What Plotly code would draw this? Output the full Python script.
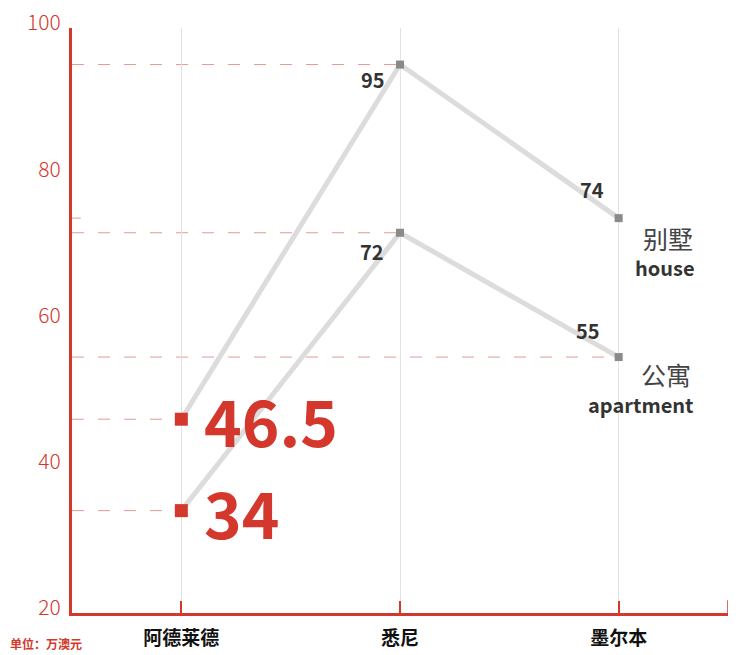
import plotly.graph_objects as go

cities = ["阿德莱德", "悉尼", "墨尔本"]
house = [46.5, 95, 74]
apartment = [34, 72, 55]
y_ticks = [20, 40, 60, 80, 100]
series_names = [("别墅", "house"), ("公寓", "apartment")]
unit_text = "单位：万澳元"

RED = "#d4382c"
DASH_RED = "#e39a93"
GRAY_LINE = "#dcdcdc"
GRAY_MARK = "#8a8a8a"
FONT = "Noto Sans CJK SC"

# the page body adds an 8px offset, so the figure is made 8px smaller
PAGE_OFF = 8
W, H = 750 - PAGE_OFF, 655 - PAGE_OFF
ML, MR, MT, MB = 72 - PAGE_OFF, 22, 28 - PAGE_OFF, 42

fig = go.Figure()

# dashed reference lines from the y axis to each point
shapes = []
for series in (house, apartment):
    for i, v in enumerate(series):
        if i == 0 or i == 1 or (i == 2 and series is apartment):
            shapes.append(dict(type="line", xref="x", yref="y", x0=-0.5, x1=i, y0=v, y1=v,
                               line=dict(color=DASH_RED, width=1, dash="12px,14px"), layer="below"))
# short dash for melbourne house value
shapes.append(dict(type="line", xref="x", yref="y", x0=-0.5, x1=-0.46, y0=house[2], y1=house[2],
                   line=dict(color=DASH_RED, width=1), layer="below"))
# end tick on x axis
shapes.append(dict(type="line", xref="x", yref="paper", x0=2.5, x1=2.5, y0=0, y1=0.022,
                   line=dict(color=RED, width=1.5)))
fig.update_layout(shapes=shapes)

for series in (house, apartment):
    fig.add_trace(go.Scatter(
        x=[0, 1, 2], y=series, mode="lines+markers",
        line=dict(color=GRAY_LINE, width=5),
        marker=dict(symbol="square", color=[RED, GRAY_MARK, GRAY_MARK], size=[13, 8, 8],
                    opacity=1, line=dict(width=0)),
        opacity=1, hoverinfo="skip", showlegend=False, cliponaxis=False))

ann = []
# small value labels
offsets_house = {1: (-27, -15), 2: (-27, 29)}
offsets_apt = {1: (-28, -19), 2: (-31, 27)}
for series, offs in ((house, offsets_house), (apartment, offsets_apt)):
    for i, (dx, dy) in offs.items():
        ann.append(dict(x=i, y=series[i], xref="x", yref="y", text=f"{series[i]:g}", showarrow=False,
                        xshift=dx, yshift=dy, font=dict(family=FONT, size=20, color="#333333", weight="bold")))
# big Adelaide labels
for series in (house, apartment):
    ann.append(dict(x=0, y=series[0], xref="x", yref="y", text=f"{series[0]:g}", showarrow=False,
                    xanchor="left", xshift=21, yshift=0,
                    font=dict(family=FONT, size=64, color=RED, weight="bold")))
# series name labels at right
name_offsets = [((49, -20), (46, -49)), ((47, -17), (22, -47))]
for series, (cn, en), ((cx, cy), (ex, ey)) in zip((house, apartment), series_names, name_offsets):
    ann.append(dict(x=2, y=series[2], xref="x", yref="y", text=cn, showarrow=False,
                    xshift=cx, yshift=cy, font=dict(family=FONT, size=25, color="#444444")))
    ann.append(dict(x=2, y=series[2], xref="x", yref="y", text=en, showarrow=False,
                    xshift=ex, yshift=ey, font=dict(family=FONT, size=20, color="#333333", weight="bold")))
plot_w = W - ML - MR
plot_h = H - MT - MB
ann.append(dict(x=(8 - PAGE_OFF - ML) / plot_w, y=(H - MB - (643 - PAGE_OFF)) / plot_h,
                xref="paper", yref="paper",
                text=unit_text, showarrow=False, xanchor="left", yanchor="middle",
                font=dict(family=FONT, size=12, color=RED, weight="bold")))
fig.update_layout(annotations=ann)

fig.update_layout(
    width=W, height=H,
    margin=dict(l=ML, r=MR, t=MT, b=MB, autoexpand=False),
    paper_bgcolor="white", plot_bgcolor="white",
    xaxis=dict(range=[-0.5, 2.5], tickmode="array", tickvals=[0, 1, 2], ticktext=cities,
               automargin=False,
               showgrid=True, gridcolor="#e3e3e3", gridwidth=1, zeroline=False,
               showline=True, linecolor=RED, linewidth=3,
               ticks="inside", ticklen=12, tickcolor=RED, tickwidth=1.5,
               ticklabelstandoff=6,
               tickfont=dict(family=FONT, size=19, color="#111111", weight="bold")),
    yaxis=dict(range=[20, 100], tickmode="array", tickvals=y_ticks, ticktext=[str(t) for t in y_ticks],
               automargin=False,
               showgrid=False, zeroline=False, showline=True, linecolor=RED, linewidth=3,
               ticks="", ticklabelposition="outside", ticklabelshift=-5, ticklabeloverflow="allow",
               ticklabelstandoff=4,
               tickfont=dict(family=FONT, size=21, color=RED, weight=300)),
)

fig.write_html("out.html")
